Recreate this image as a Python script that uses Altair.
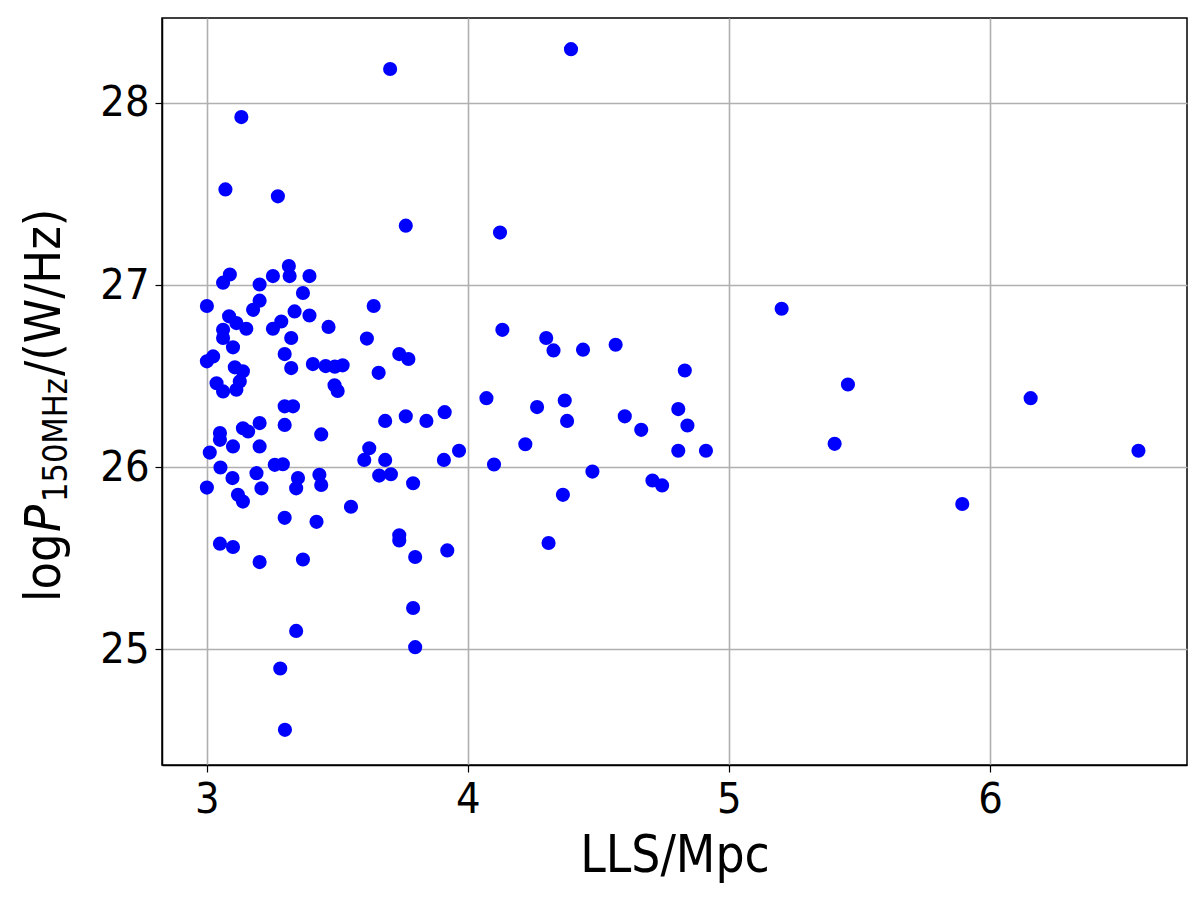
import altair as alt
import pandas as pd

# LLS in Mpc
lls = [
    4.395, 4.123, 4.132, 4.300, 4.328, 4.441, 4.566, 4.831, 4.071, 4.265,
    4.371, 4.380, 4.601, 4.664, 4.806, 4.841, 4.220, 4.806, 4.912, 4.100,
    4.477, 4.707, 4.744, 4.364, 4.309, 5.202, 5.456, 5.405, 5.894, 6.156,
    6.569,
    3.702, 3.762, 3.639, 3.466, 3.613, 3.406, 3.455, 3.490, 3.520, 3.489,
    3.501, 3.658, 3.737, 3.772, 3.683, 3.762, 3.841, 3.911, 3.438, 3.622,
    3.966, 3.603, 3.683, 3.908, 3.660, 3.705, 3.790, 3.431, 3.438, 3.552,
    3.737, 3.737, 3.798, 3.921, 3.420, 3.790, 3.798, 3.342, 3.368, 3.393,
    3.368, 3.393, 3.349, 3.342,
    3.281, 3.299, 3.132, 3.071, 3.272, 3.088, 3.062, 3.202, 3.253, 3.314,
    3.317, 3.000, 3.202, 3.177, 3.085, 3.113, 3.151, 3.062, 3.062, 3.253,
    3.285, 3.336, 3.323, 3.100, 3.000, 3.024, 3.298, 3.323, 3.107, 3.138,
    3.126, 3.037, 3.062, 3.113, 3.298, 3.330, 3.298, 3.202, 3.138, 3.158,
    3.050, 3.050, 3.100, 3.011, 3.202, 3.000, 3.052, 3.098, 3.119, 3.138,
    3.190, 3.209, 3.260, 3.291, 3.298, 3.050, 3.100, 3.202,
]
# log P_150MHz in W/Hz
logp = [
    28.295, 27.288, 26.754, 26.709, 26.641, 26.645, 26.672, 26.531, 26.379, 26.330,
    26.366, 26.254, 26.279, 26.205, 26.319, 26.229, 26.126, 26.090, 26.090, 26.015,
    25.976, 25.927, 25.900, 25.848, 25.584, 26.870, 26.454, 26.128, 25.798, 26.379,
    26.090,
    28.186, 27.326, 26.885, 26.770, 26.706, 26.566, 26.555, 26.552, 26.559, 26.450,
    26.418, 26.518, 26.621, 26.594, 26.254, 26.279, 26.254, 26.302, 26.180, 26.104,
    26.090, 26.040, 26.040, 26.040, 25.954, 25.961, 25.912, 25.958, 25.902, 25.783,
    25.626, 25.598, 25.507, 25.543, 25.700, 25.227, 25.012, 25.101, 25.493, 27.049,
    26.956, 26.833, 25.940, 25.884,
    24.895, 24.558, 27.922, 27.525, 27.487, 27.058, 27.013, 27.003, 27.049, 27.104,
    27.049, 26.885, 26.914, 26.864, 26.828, 26.791, 26.760, 26.754, 26.709, 26.760,
    26.800, 26.855, 26.709, 26.658, 26.581, 26.608, 26.621, 26.544, 26.548, 26.526,
    26.471, 26.461, 26.416, 26.425, 26.334, 26.334, 26.232, 26.242, 26.214, 26.196,
    26.187, 26.150, 26.114, 26.080, 26.114, 25.888, 25.998, 25.940, 25.848, 25.811,
    25.967, 25.884, 26.013, 26.016, 25.722, 25.580, 25.562, 25.479,
]

x_ticks = [3, 4, 5, 6]
y_ticks = [25, 26, 27, 28]
x_title = "LLS/Mpc"
y_title_parts = ["log", "P", "150MHz", "/(W/Hz)"]

FONT = "DejaVu Sans Condensed, DejaVu Sans"

df = pd.DataFrame({"LLS": lls, "logP": logp})

points = alt.Chart(df).mark_circle(size=200, color="#0000ff", opacity=1).encode(
    x=alt.X(
        "LLS:Q",
        scale=alt.Scale(domain=[2.828, 6.755], nice=False, zero=False),
        axis=alt.Axis(values=x_ticks, title=x_title, format="d"),
    ),
    y=alt.Y(
        "logP:Q",
        scale=alt.Scale(domain=[24.365, 28.466], nice=False, zero=False),
        axis=alt.Axis(values=y_ticks, title=None, format="d"),
    ),
)

def piece(txt, ypos, xpos, size, style="normal"):
    return alt.Chart(pd.DataFrame({"t": [txt]})).mark_text(
        angle=270, align="left", baseline="alphabetic", font=FONT,
        fontSize=size, fontStyle=style, color="black",
    ).encode(text="t:N", x=alt.value(xpos), y=alt.value(ypos))

t_log = piece(y_title_parts[0], 584, -102, 50)
t_p = piece(y_title_parts[1], 514, -102, 50, "italic")
t_sub = piece(y_title_parts[2], 484, -95, 34)
t_rest = piece(y_title_parts[3], 358, -102, 50)

chart = alt.layer(points, t_log, t_p, t_sub, t_rest).properties(
    width=1025,
    height=747,
    autosize=alt.AutoSizeParams(type="none"),
    padding={"left": 154, "top": 10, "right": 5, "bottom": 120},
).configure_view(
    stroke="black", strokeWidth=1.5
).configure_axis(
    grid=True, gridColor="#b0b0b0", gridWidth=1.6,
    domainColor="black", domainWidth=1.5,
    tickColor="black", tickSize=7, tickWidth=1.2,
    labelFont=FONT, labelFontSize=43, labelColor="black",
    titleFont=FONT, titleFontSize=51, titleColor="black", titleFontWeight="normal",
    labelPadding=6,
).configure_axisX(
    titlePadding=10,
)

chart.save("out.html", embed_options={"renderer": "svg", "actions": False})
